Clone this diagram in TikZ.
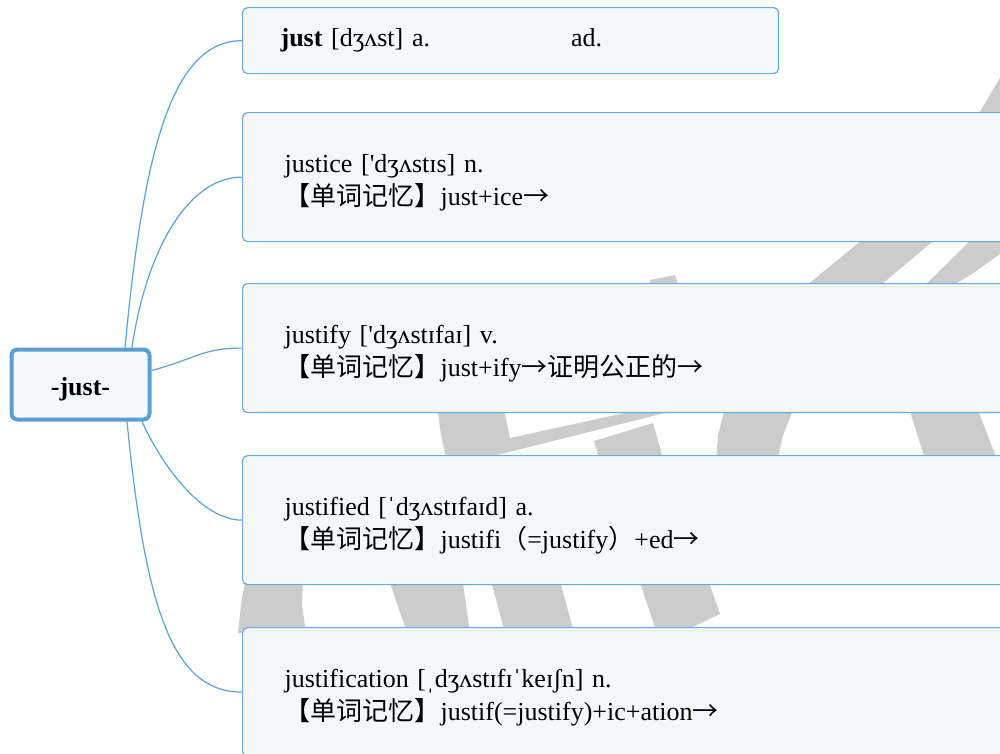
\documentclass[tikz,border=0pt]{standalone}
\usepackage{fontspec}
\setmainfont{Liberation Serif}
\newfontfamily\cjk{Noto Sans CJK SC}
\newfontfamily\rawserif{Liberation Serif}
\newcommand{\arr}{{\cjk →}}
\newcommand{\topstrut}{\rule{0pt}{30pt}}
\definecolor{boxfill}{HTML}{F4F8FD}
\definecolor{boxline}{HTML}{68A9DE}
\definecolor{centerline}{HTML}{5A9FD4}
\definecolor{linkc}{HTML}{5CA2DA}
\definecolor{wm}{HTML}{CCCCCC}
\begin{document}
\begin{tikzpicture}[x=1pt,y=-1pt,
  leaf/.style={draw=boxline, line width=1.2pt, fill=boxfill, rounded corners=5pt,
    anchor=north west, align=left, inner ysep=0pt,
    font=\fontsize{26}{33}\selectfont},
  bigleaf/.style={leaf, minimum width=800pt, minimum height=129pt,
    inner xsep=42pt, text width=716pt},
  link/.style={draw=linkc, line width=1.2pt},
  wmark/.style={fill=wm}]
\useasboundingbox (0,0) rectangle (1000,753);
\clip (0,0) rectangle (1000,753);
\fill[white] (0,0) rectangle (1000,753);
% watermark pieces
\fill[wmark] (975,120) -- (1000,78) -- (1000,120) -- cycle;
\fill[wmark] (867,236) -- (939,236) -- (875,290) -- (801,290) -- cycle;
\fill[wmark] (975,236) -- (1000,236) -- (1000,254) -- (972,274) -- (945,290) -- (920,290) -- cycle;
\fill[wmark] (648,290) -- (650,280) -- (675,275) -- (680,290) -- cycle;
\fill[wmark] (437,405) -- (503,405) -- (510,438) -- (661,405) -- (697,405) -- (497,455) -- (490,462) -- (447,462) -- (441,435) -- cycle;
\fill[wmark] (594,441) -- (653,423) -- (664,462) -- (600,462) -- cycle;
\fill[wmark] (726,405) -- (795,405) -- (783,435) -- (777,462) -- (716,462) -- (718,435) -- cycle;
\fill[wmark] (908,405) -- (976,405) -- (998,462) -- (926,462) -- cycle;
\fill[wmark] (246,577) -- (303,577) -- (302,605) -- (306,633) -- (238,633) -- (241,605) -- cycle;
\fill[wmark] (388,577) -- (462,577) -- (470,633) -- (407,633) -- cycle;
\fill[wmark] (490,577) -- (559,577) -- (574,633) -- (505,633) -- cycle;
\fill[wmark] (638,577) -- (707,577) -- (720,614) -- (680,633) -- (657,633) -- cycle;

% central node
\node[draw=centerline, line width=4pt, fill=boxfill, rounded corners=6pt,
  minimum width=138pt, minimum height=70pt, text depth=0pt,
  font=\fontsize{26}{30}\selectfont\bfseries] (c) at (80.5,384.5) {\raisebox{-3pt}{-just-}};

% leaves
\node[leaf, minimum width=536pt, minimum height=66pt, inner xsep=38pt, text width=460pt]
  (b1) at (242,7) {\raisebox{-2pt}{\textbf{just} [dʒʌst] a.\hspace{141pt}ad.}};
\node[bigleaf] (b2) at (242,112)
  {\topstrut justice [{\rawserif'}dʒʌstɪs] n.\\{\cjk 【单词记忆】}just+ice\arr};
\node[bigleaf] (b3) at (242,283)
  {\topstrut justify [{\rawserif'}dʒʌstɪfaɪ] v.\\{\cjk 【单词记忆】}just+ify\arr{\cjk 证明公正的}\arr};
\node[bigleaf] (b4) at (242,455)
  {\topstrut justified [ˈdʒʌstɪfaɪd] a.\\{\cjk 【单词记忆】}justifi{\cjk （}=justify{\cjk ）}+ed\arr};
\node[bigleaf] (b5) at (242,627)
  {\topstrut justification [ˌdʒʌstɪfɪˈkeɪʃn] n.\\{\cjk 【单词记忆】}justif(=justify)+ic+ation\arr};

% connectors
\draw[link] ([xshift=44.5pt]c.north) .. controls +(18,-190) and +(-72,0) .. (b1.west);
\draw[link] ([xshift=51.5pt]c.north) .. controls +(13,-90) and +(-57,0) .. (b2.west);
\draw[link] ([yshift=14pt]c.east) .. controls +(45,-12) and +(-40,0) .. (b3.west);
\draw[link] ([xshift=61.5pt]c.south) .. controls +(18,40) and +(-42,0) .. (b4.west);
\draw[link] ([xshift=46.5pt]c.south) .. controls +(18,180) and +(-72,0) .. (b5.west);
\end{tikzpicture}
\end{document}
